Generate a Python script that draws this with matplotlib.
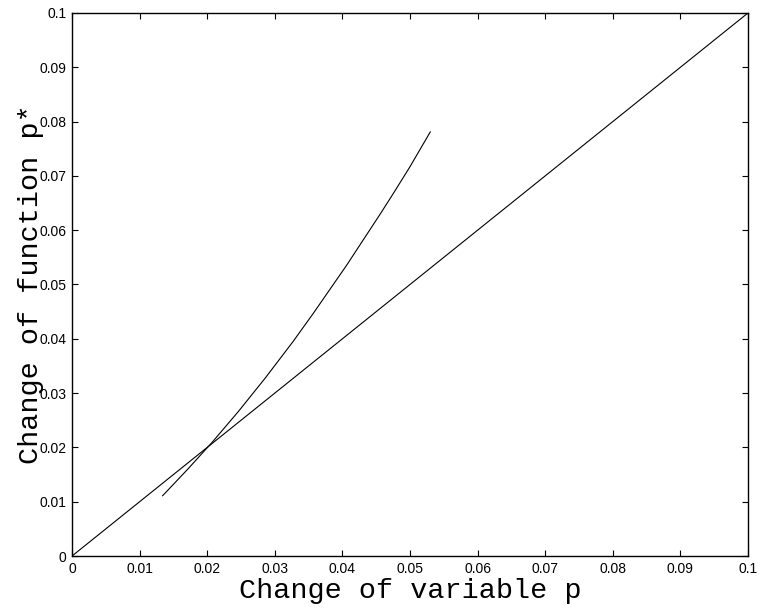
import matplotlib
matplotlib.use("Agg")
import matplotlib.pyplot as plt
import numpy as np

# reference diagonal p* = p
diag_p = [0.0, 0.1]
diag_pstar = [0.0, 0.1]

# curve
curve_p = [0.0134, 0.0172, 0.0207, 0.0246, 0.0286, 0.0327, 0.0357, 0.0406,
           0.0455, 0.0475, 0.0500, 0.0530]
curve_pstar = [0.0111, 0.0161, 0.0209, 0.0266, 0.0328, 0.0395, 0.0447, 0.0535,
               0.0628, 0.0667, 0.0717, 0.0781]

tick_values = np.round(np.arange(0, 0.1001, 0.01), 2)
tick_labels = ["0", "0.01", "0.02", "0.03", "0.04", "0.05", "0.06", "0.07", "0.08", "0.09", "0.1"]

fig = plt.figure(figsize=(7.59, 6.09), dpi=100)
ax = fig.add_axes([0.0949, 0.0870, 0.8906, 0.8917])

ax.plot(diag_p, diag_pstar, color="black", linewidth=0.8)
ax.plot(curve_p, curve_pstar, color="black", linewidth=0.8)

ax.set_xlim(0, 0.1)
ax.set_ylim(0, 0.1)
ax.set_xticks(tick_values)
ax.set_yticks(tick_values)
ax.set_xticklabels(tick_labels, family="Liberation Sans", fontsize=10)
ax.set_yticklabels(tick_labels, family="Liberation Sans", fontsize=10)
ax.tick_params(direction="in", length=4.5, width=0.8, top=True, right=True, pad=4)
for spine in ax.spines.values():
    spine.set_linewidth(1.0)

ax.set_xlabel("Change of variable p", family="Liberation Mono", fontsize=20.5, labelpad=2)
ax.set_ylabel("Change of function p*", family="Liberation Mono", fontsize=20.5, labelpad=-3)

fig.savefig("out.png", dpi=100, facecolor="white")
